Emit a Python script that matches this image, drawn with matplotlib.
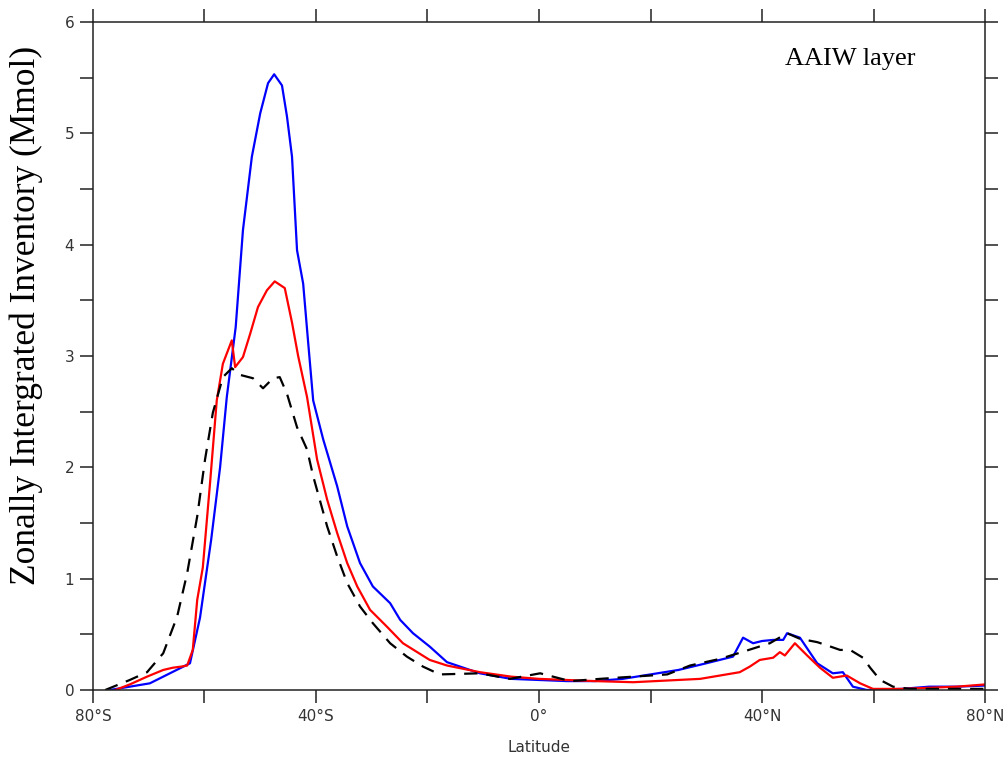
import numpy as np
import matplotlib
matplotlib.use("Agg")
import matplotlib.pyplot as plt
from matplotlib.ticker import MultipleLocator, FuncFormatter

# values
lat_blue = [-77, -73.4, -69.8, -66.2, -62.6, -60.8, -58.8, -57.2, -56.0, -54.4,
            -53.1, -51.5, -50.0, -48.6, -47.5, -46.1, -45.2, -44.3, -43.4, -42.3,
            -41.4, -40.5, -38.7, -36.2, -34.4, -32.1, -29.8, -26.7, -24.9, -22.6,
            -19.6, -16.5, -10.6, -5, 0, 5, 10, 15, 20, 25,
            30, 34.8, 36.6, 38.4, 40, 42.0, 43.8, 44.5, 46.8, 49.9,
            52.7, 54.5, 56.3, 58.8, 65, 70, 75, 80]
inv_blue = [0, 0.03, 0.06, 0.15, 0.24, 0.65, 1.35, 2.0, 2.63, 3.26,
            4.13, 4.79, 5.18, 5.45, 5.53, 5.43, 5.15, 4.79, 3.95, 3.65,
            3.12, 2.6, 2.25, 1.83, 1.47, 1.14, 0.93, 0.78, 0.63, 0.51,
            0.39, 0.25, 0.15, 0.1, 0.09, 0.08, 0.08, 0.1, 0.14, 0.18,
            0.24, 0.3, 0.47, 0.42, 0.44, 0.45, 0.45, 0.51, 0.47, 0.24,
            0.15, 0.16, 0.03, 0.0, 0.01, 0.03, 0.03, 0.04]

lat_red = [-76, -73.4, -70.3, -67.4, -65.7, -64.2, -63.1, -62.1, -61.3, -60.3,
           -59.0, -57.8, -56.7, -55.1, -54.5, -53.1, -51.8, -50.4, -48.8, -47.4,
           -45.6, -44.3, -43.2, -41.6, -39.8, -38.0, -36.2, -34.4, -32.6, -30.3,
           -27.3, -24.4, -19.6, -16.5, -10.6, -5, 0, 10, 16.9, 28.9,
           36.0, 37.8, 39.6, 42.0, 43.2, 44.1, 45.9, 48.1, 50.4, 52.7,
           55.2, 57.6, 59.9, 65, 75, 80]
inv_red = [0, 0.05, 0.12, 0.18, 0.2, 0.21, 0.22, 0.36, 0.81, 1.1,
           1.86, 2.6, 2.93, 3.14, 2.9, 2.99, 3.2, 3.44, 3.59, 3.67,
           3.61, 3.3, 3.0, 2.63, 2.07, 1.71, 1.41, 1.14, 0.93, 0.72,
           0.57, 0.42, 0.27, 0.22, 0.16, 0.12, 0.1, 0.08, 0.07, 0.1,
           0.16, 0.21, 0.27, 0.29, 0.34, 0.31, 0.42, 0.31, 0.2, 0.11,
           0.13, 0.06, 0.01, 0.01, 0.03, 0.05]

lat_obs = [-77.8, -73.4, -70.3, -67.4, -64.9, -63.1, -61.3, -59.9, -58.5, -56.7,
           -55.1, -53.6, -51.3, -49.5, -47.7, -46.5, -45.2, -43.4, -41.6, -40.5,
           -38.0, -36.2, -34.4, -32.1, -29.8, -26.7, -23.7, -20.8, -17.8, -10.6,
           -5.2, 0.2, 5.6, 10.9, 16.9, 23.0, 27.1, 32.5, 37.0, 41.4,
           44.5, 46.8, 49.9, 51.7, 54.0, 55.8, 58.1, 59.4, 61.2, 63.5,
           66.5, 80]
inv_obs = [0, 0.09, 0.16, 0.33, 0.66, 1.05, 1.56, 2.07, 2.49, 2.81,
           2.89, 2.83, 2.8, 2.71, 2.8, 2.81, 2.66, 2.36, 2.16, 1.92,
           1.47, 1.2, 0.96, 0.75, 0.6, 0.42, 0.3, 0.21, 0.14, 0.15,
           0.1, 0.15, 0.08, 0.1, 0.12, 0.14, 0.22, 0.28, 0.35, 0.42,
           0.51, 0.46, 0.43, 0.4, 0.36, 0.36, 0.29, 0.2, 0.09, 0.03,
           0.01, 0.01]

xticks = [-80, -60, -40, -20, 0, 20, 40, 60, 80]


def lat_label(v, pos):
    v = int(round(v))
    if v == 0:
        return "0°"
    if v in (-80, -40, 40, 80):
        return f"{abs(v)}°{'S' if v < 0 else 'N'}"
    return ""


fig = plt.figure(figsize=(10.04, 7.57), dpi=100)
ax = fig.add_axes([0.0926, 0.0885, 0.8885, 0.8825])

ax.plot(lat_blue, inv_blue, color="#0000ff", lw=1.6)
ax.plot(lat_red, inv_red, color="#ff0000", lw=1.6)
ax.plot(lat_obs, inv_obs, color="black", lw=1.6, dashes=(6, 4))

ax.set_xlim(-80, 80)
ax.set_ylim(0, 6)
ax.set_xticks(xticks)
ax.xaxis.set_major_formatter(FuncFormatter(lat_label))
ax.yaxis.set_major_locator(MultipleLocator(1))
ax.yaxis.set_minor_locator(MultipleLocator(0.5))

for s in ax.spines.values():
    s.set_linewidth(1.1)
    s.set_color("#222222")
ax.tick_params(which="both", direction="out", length=9.5, width=1.1,
               color="#222222", top=True, right=True, labelsize=11,
               labelcolor="#333333", pad=4)

ax.set_xlabel("Latitude", fontsize=11, color="#333333", labelpad=12)
ax.set_ylabel("Zonally Intergrated Inventory (Mmol)", family="Liberation Serif",
              fontsize=25.5)
ax.yaxis.set_label_coords(-0.056, 0.561)
ax.text(0.776, 0.936, "AAIW layer", transform=ax.transAxes,
        family="Liberation Serif", fontsize=19, va="baseline")

fig.savefig("out.png", dpi=100)
